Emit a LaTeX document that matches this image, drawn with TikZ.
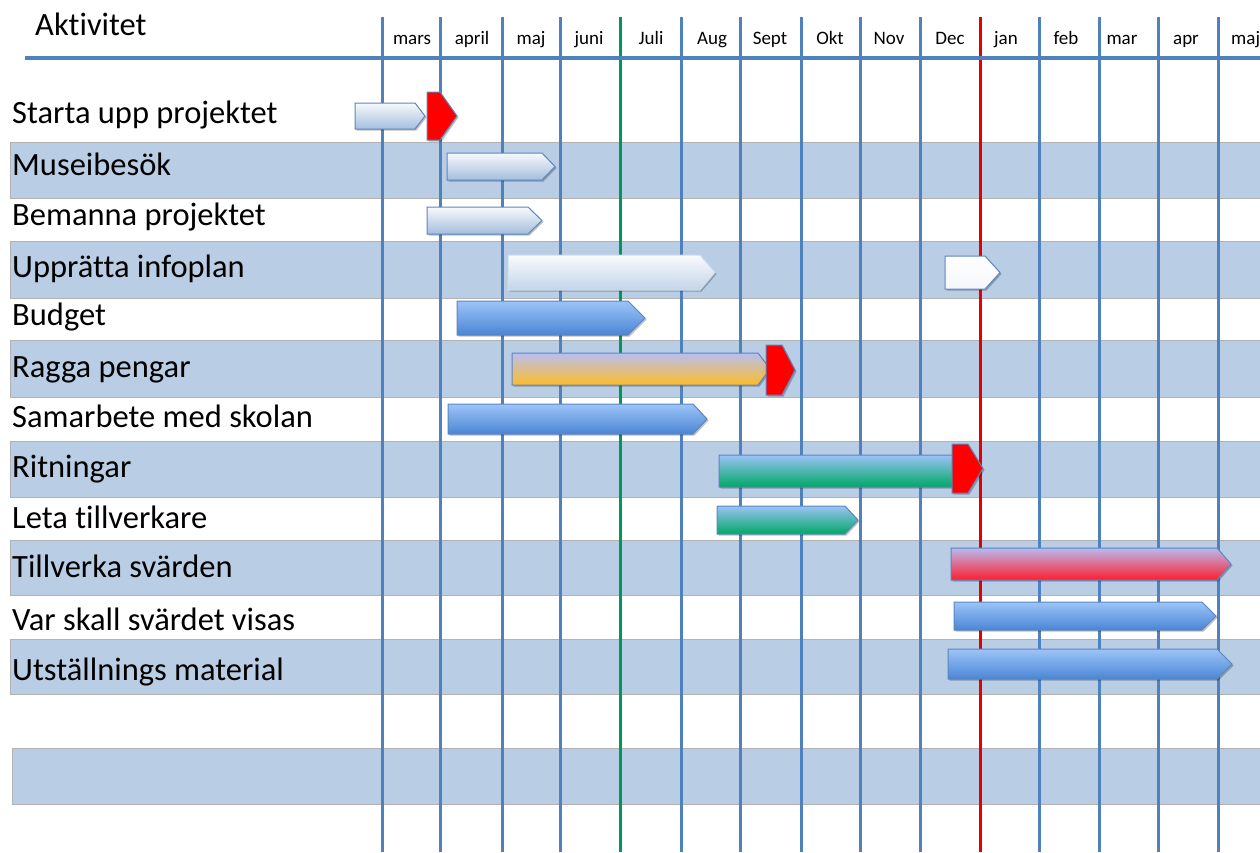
\documentclass[tikz,border=0pt]{standalone}
\usepackage{fontspec}
\setmainfont{Carlito}[Ligatures=NoCommon]
\usetikzlibrary{shadows}
\definecolor{bandc}{HTML}{B9CDE5}
\definecolor{gridc}{HTML}{4F81BD}
\definecolor{edgec}{HTML}{5B86C0}
\definecolor{HTML9DC4F8}{HTML}{9DC4F8}
\definecolor{HTML4A86D4}{HTML}{4A86D4}
\definecolor{HTMLB8BEF4}{HTML}{B8BEF4}
\definecolor{HTMLFDBD26}{HTML}{FDBD26}
\definecolor{HTML9AC3F6}{HTML}{9AC3F6}
\definecolor{HTML00A865}{HTML}{00A865}
\definecolor{HTMLB9B9F0}{HTML}{B9B9F0}
\definecolor{HTMLFF1E2D}{HTML}{FF1E2D}
\newcommand\gbar[6]{\path[#1] (#2,#5) -- (#3,#5) -- (#4,{(#5+#6)/2}) -- (#3,#6) -- (#2,#6) -- cycle;}
\tikzset{
  bandbox/.style={fill=bandc, draw=black!30, line width=0.8pt},
  vline/.style={draw=gridc, line width=3pt},
  hline/.style={draw=gridc, line width=3.5pt},
  lbl/.style={anchor=base west, inner sep=0pt, font=\fontsize{32.5}{36}\selectfont},
  month/.style={anchor=base, inner sep=0pt, font=\fontsize{19}{22}\selectfont},
  barbase/.style={draw=edgec, line width=1pt, drop shadow={shadow xshift=1.5pt, shadow yshift=-1.5pt, opacity=0.25, fill=black}},
  lightbar/.style={barbase, top color=white!90!bandc, bottom color=bandc!80!gridc},
  softbar/.style={barbase, draw=bandc!70!white, top color=white!92!bandc, bottom color=bandc!85!white},
  whitebar/.style={barbase, top color=white, bottom color=white!85!bandc},
  bluebar/.style={barbase, top color=HTML9DC4F8, bottom color=HTML4A86D4},
  goldbar/.style={barbase, top color=HTMLB8BEF4, bottom color=HTMLFDBD26},
  greenbar/.style={barbase, top color=HTML9AC3F6, bottom color=HTML00A865},
  redbar/.style={barbase, top color=HTMLB9B9F0, bottom color=HTMLFF1E2D},
  milestone/.style={barbase, fill=red},
}
\begin{document}
\begin{tikzpicture}[x=1pt,y=-1pt]
\useasboundingbox[fill=white] (0,0) rectangle (1260,852);
% bands
\foreach \a/\b in {142/198, 241/298, 340/397, 441/497, 540/595, 639/694}
  \draw[bandbox] (10,\a) rectangle (1264,\b);
\draw[bandbox] (12,748) rectangle (1264,804);
% vertical lines
\foreach \x in {382,440,502,560,681,740,801,860,920,1039,1099,1158,1218}
  \draw[vline] (\x,17) -- (\x,852);
\draw[vline, draw=HTML00A865!90!black] (620,17) -- (620,852);
\draw[vline, draw=red!90!black] (980,17) -- (980,852);
% header
\draw[hline] (25,58) -- (1262,58);
\node[lbl] (title) at (35,35) {Aktivitet};
\node[month] (m1) at (412,44) {mars};
\node[month] (m2) at (472,44) {april};
\node[month] (m3) at (531,44) {maj};
\node[month] (m4) at (589,44) {juni};
\node[month] (m5) at (651,44) {Juli};
\node[month] (m6) at (712,44) {Aug};
\node[month] (m7) at (770,44) {Sept};
\node[month] (m8) at (830,44) {Okt};
\node[month] (m9) at (889,44) {Nov};
\node[month] (m10) at (950,44) {Dec};
\node[month] (m11) at (1006,44) {jan};
\node[month] (m12) at (1066,44) {feb};
\node[month] (m13) at (1122,44) {mar};
\node[month] (m14) at (1186,44) {apr};
\node[month, anchor=base west] (m15) at (1231,44) {maj};
% row labels
\node[lbl] (r1) at (12,123) {Starta upp projektet};
\node[lbl] (r2) at (12,175) {Museibesök};
\node[lbl] (r3) at (12,225) {Bemanna projektet};
\node[lbl] (r4) at (12,277) {Upprätta infoplan};
\node[lbl] (r5) at (12,325) {Budget};
\node[lbl] (r6) at (12,377) {Ragga pengar};
\node[lbl] (r7) at (12,427) {Samarbete med skolan};
\node[lbl] (r8) at (12,477) {Ritningar};
\node[lbl] (r9) at (12,528) {Leta tillverkare};
\node[lbl] (r10) at (12,577) {Tillverka svärden};
\node[lbl] (r11) at (12,630) {Var skall svärdet visas};
\node[lbl] (r12) at (12,680) {Utställnings material};
% bars
\gbar{lightbar}{355}{415}{425}{103}{129}
\gbar{milestone}{427}{440}{457}{92}{140}
\gbar{lightbar}{447}{542}{555}{153}{180}
\gbar{lightbar}{427}{528}{542}{207}{234}
\gbar{softbar}{508}{700}{715}{255}{290}
\gbar{whitebar}{945}{985}{1000}{256}{289}
\gbar{bluebar}{457}{628}{645}{301}{335}
\gbar{goldbar}{512}{758}{770}{353}{385}
\gbar{milestone}{766}{782}{795}{345}{395}
\gbar{bluebar}{448}{693}{707}{404}{434}
\gbar{greenbar}{719}{952}{965}{455}{487}
\gbar{milestone}{952}{968}{983}{444}{493}
\gbar{greenbar}{717}{845}{858}{506}{534}
\gbar{redbar}{951}{1217}{1231}{548}{580}
\gbar{bluebar}{954}{1202}{1216}{602}{630}
\gbar{bluebar}{948}{1217}{1232}{649}{679}
\end{tikzpicture}
\end{document}
